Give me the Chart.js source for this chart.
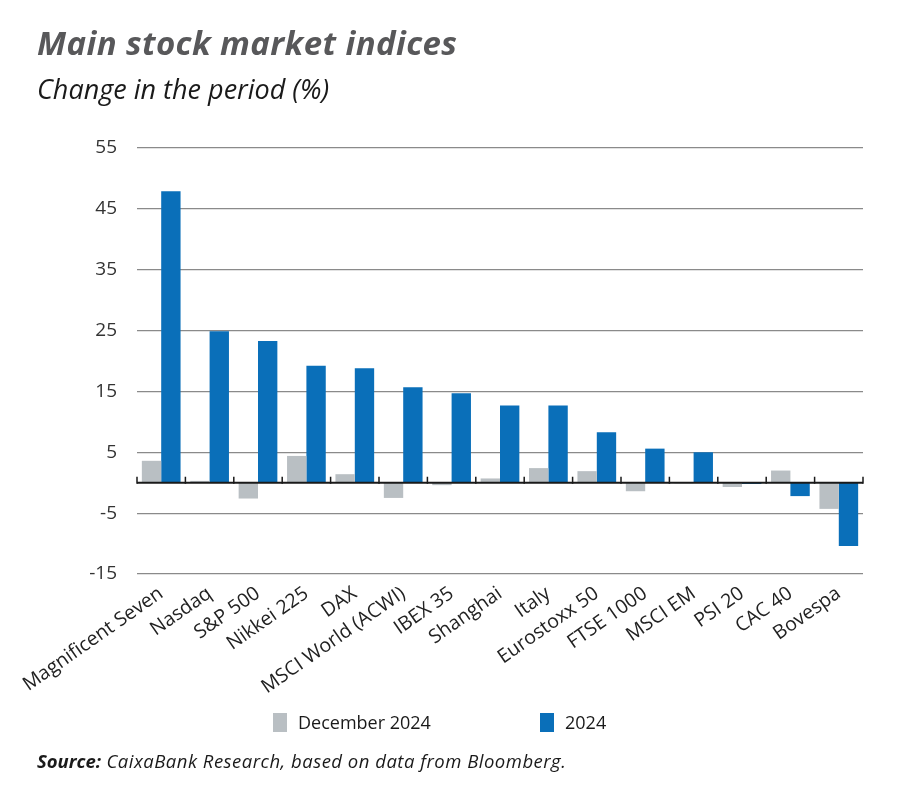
<!DOCTYPE html>
<html>
<head>
<meta charset="utf-8">
<script src="https://cdn.jsdelivr.net/npm/chart.js@4.4.1/dist/chart.umd.min.js"></script>
<style>
  body { margin: 0; background: #fff; font-family: "Open Sans", sans-serif; }
  #wrap { position: relative; width: 900px; height: 803px; overflow: hidden; }
  #chartBox { position: absolute; left: 0; top: 0; width: 900px; height: 803px; }
  .title { position: absolute; left: 37px; top: 20px; font-size: 33px; font-weight: 700; font-style: italic; color: #58585a; letter-spacing: 0.4px; }
  .subtitle { position: absolute; left: 37px; top: 70px; font-size: 27px; font-style: italic; color: #1a1a1a; }
  .legend { position: absolute; top: 710px; left: 0; width: 900px; font-size: 18px; color: #1a1a1a; }
  .legend span.box { position: absolute; top: 3px; width: 14px; height: 19px; }
  .legend span.txt { position: absolute; top: 0; }
  .source { position: absolute; left: 37px; top: 748px; font-size: 18.5px; font-style: italic; color: #1a1a1a; letter-spacing: 0.5px; }
  .source b { font-weight: 700; letter-spacing: 0; }
</style>
</head>
<body>
<div id="wrap">
  <div id="chartBox"><canvas id="stocks"></canvas></div>
  <div class="title">Main stock market indices</div>
  <div class="subtitle">Change in the period (%)</div>
  <div class="legend">
    <span class="box" style="left:273px;background:#b9bfc3"></span><span class="txt" style="left:298px">December 2024</span>
    <span class="box" style="left:540px;background:#0a6fb9"></span><span class="txt" style="left:565px">2024</span>
  </div>
  <div class="source"><b>Source:</b> CaixaBank Research, based on data from Bloomberg.</div>
</div>
<script>
  // values (% change)
  const categories = ["Magnificent Seven", "Nasdaq", "S&P 500", "Nikkei 225", "DAX", "MSCI World (ACWI)", "IBEX 35",
    "Shanghai", "Italy", "Eurostoxx 50", "FTSE 1000", "MSCI EM", "PSI 20", "CAC 40", "Bovespa"];
  const december2024 = [3.6, 0.3, -2.6, 4.4, 1.4, -2.5, -0.4, 0.7, 2.4, 1.9, -1.4, -0.1, -0.7, 2.0, -4.3];
  const year2024 = [47.9, 24.9, 23.3, 19.2, 18.8, 15.7, 14.7, 12.7, 12.7, 8.3, 5.6, 5.0, -0.2, -2.2, -10.4];
  const yTicks = [-15, -5, 5, 15, 25, 35, 45, 55];

  // zero line with small marks between categories
  const zeroAxis = {
    id: "zeroAxis",
    afterDatasetsDraw(chart) {
      const { ctx, chartArea, scales: { x, y } } = chart;
      const y0 = y.getPixelForValue(0);
      const step = x.getPixelForValue(1) - x.getPixelForValue(0);
      ctx.save();
      ctx.strokeStyle = "#1a1a1a";
      ctx.lineWidth = 2;
      ctx.beginPath();
      ctx.moveTo(chartArea.left, y0);
      ctx.lineTo(chartArea.right, y0);
      ctx.stroke();
      ctx.lineWidth = 1.5;
      ctx.beginPath();
      for (let i = 0; i <= categories.length; i++) {
        const bx = x.getPixelForValue(i) - step / 2;
        ctx.moveTo(bx, y0 - 6);
        ctx.lineTo(bx, y0 + 1);
      }
      ctx.stroke();
      ctx.restore();
    }
  };

  Chart.defaults.font.family = "'Open Sans', sans-serif";
  Chart.defaults.color = "#222";

  new Chart("stocks", {
    type: "bar",
    data: {
      labels: categories,
      datasets: [
        { label: "December 2024", data: december2024, backgroundColor: "#b9bfc3" },
        { label: "2024", data: year2024, backgroundColor: "#0a6fb9" }
      ]
    },
    options: {
      responsive: true,
      maintainAspectRatio: false,
      animation: false,
      categoryPercentage: 0.8,
      barPercentage: 1.0,
      layout: { padding: { left: 0, right: 37, top: 148, bottom: 104 } },
      plugins: {
        legend: { display: false },
        tooltip: { enabled: false }
      },
      scales: {
        x: {
          grid: { display: false },
          border: { display: false },
          ticks: { minRotation: 35, maxRotation: 35, padding: 0, font: { size: 19.5 }, color: "#222" },
          afterFit: function (s) { s.height = 125; }
        },
        y: {
          min: -15,
          max: 55,
          afterBuildTicks: function (s) { s.ticks = yTicks.map(v => ({ value: v })); },
          grid: { color: "#8a8a8a", lineWidth: 1.2, drawTicks: false },
          border: { display: false },
          ticks: { padding: 20, font: { size: 19 }, color: "#333" },
          afterFit: function (s) { s.width = 137; }
        }
      }
    },
    plugins: [zeroAxis]
  });
</script>
</body>
</html>
